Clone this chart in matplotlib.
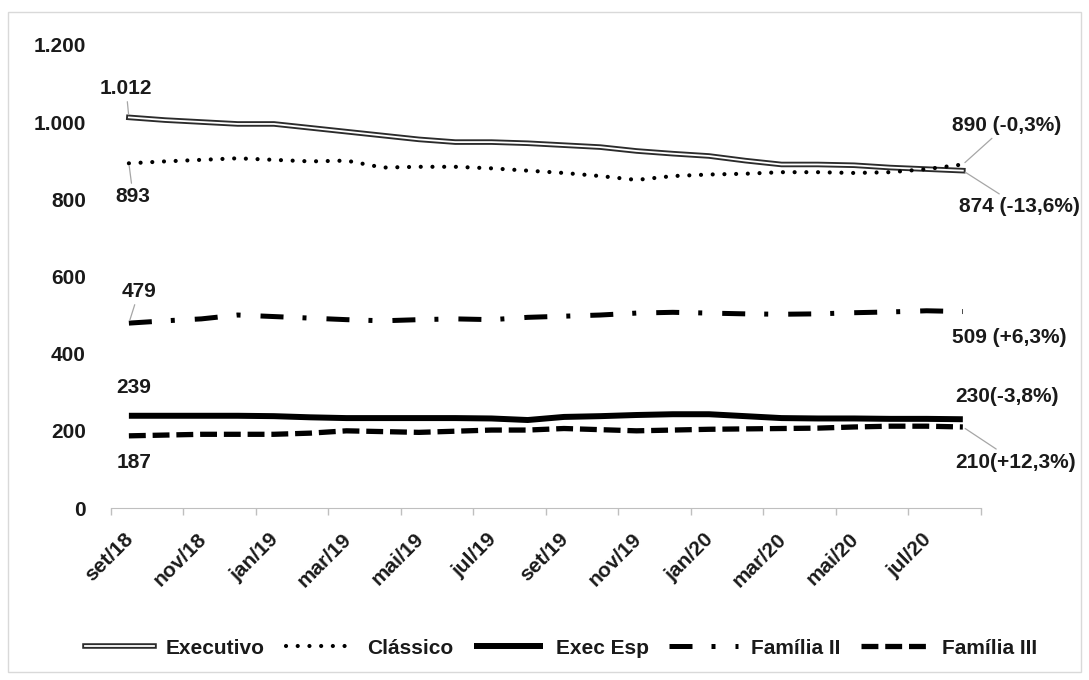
import numpy as np
import matplotlib.pyplot as plt
import matplotlib.patheffects as pe
from matplotlib.patches import Rectangle
from matplotlib.transforms import ScaledTranslation

plt.rcParams['font.family'] = ['Liberation Sans', 'DejaVu Sans']
plt.rcParams['font.weight'] = 'bold'

months = ["set/18", "out/18", "nov/18", "dez/18", "jan/19", "fev/19", "mar/19", "abr/19",
          "mai/19", "jun/19", "jul/19", "ago/19", "set/19", "out/19", "nov/19", "dez/19",
          "jan/20", "fev/20", "mar/20", "abr/20", "mai/20", "jun/20", "jul/20", "ago/20"]

executivo = [1012, 1005, 1000, 995, 995, 985, 975, 965, 955, 948, 948, 945,
             940, 935, 925, 918, 912, 900, 890, 890, 888, 882, 878, 874]
classico = [893, 898, 902, 906, 902, 898, 900, 882, 884, 884, 880, 874,
            868, 860, 850, 860, 864, 866, 870, 870, 868, 870, 878, 890]
exec_esp = [239, 239, 239, 239, 238, 235, 233, 233, 233, 233, 232, 228,
            236, 238, 241, 243, 243, 238, 233, 232, 232, 231, 231, 230]
familia2 = [479, 485, 490, 500, 496, 492, 488, 485, 488, 490, 488, 494,
            497, 500, 505, 507, 505, 503, 502, 503, 506, 508, 511, 509]
familia3 = [187, 189, 191, 191, 191, 194, 200, 198, 196, 199, 202, 202,
            206, 203, 200, 202, 204, 205, 206, 207, 210, 212, 212, 210]


def fmt_num(v):
    return f"{v:,}".replace(",", ".")


def fmt_pct(first, last):
    p = (last / first - 1) * 100
    return f"({p:+.1f}%)".replace(".", ",")


fig = plt.figure(figsize=(10.89, 6.8), dpi=100)
ax = fig.add_axes([0.1017, 0.2529, 0.7991, 0.6812])
fig.patches.append(Rectangle((0.007, 0.012), 0.986, 0.97, transform=fig.transFigure,
                             fill=False, edgecolor='#d9d9d9', lw=1.0))

x = np.arange(len(months))
txt = '#1a1a1a'

# double line for Executivo
ax.plot(x, executivo, color='white', lw=1.3, label='Executivo',
        path_effects=[pe.Stroke(linewidth=4.0, foreground='#2b2b2b'), pe.Normal()])
ln, = ax.plot(x, classico, color='black', lw=3.0, label='Clássico',
              dash_capstyle='round')
ln.set_dashes([0.01, 2.8])
ax.plot(x, exec_esp, color='black', lw=4.3, label='Exec Esp', solid_capstyle='butt')
ln, = ax.plot(x, familia2, color='black', lw=3.6, label='Família II')
ln.set_dashes([4.6, 3.8, 0.8, 4.0])
ln, = ax.plot(x, familia3, color='black', lw=3.8, label='Família III')
ln.set_dashes([3.2, 1.3])

ax.set_xlim(-0.5, len(months) - 0.5)
ax.set_ylim(0, 1200)

# category axis: ticks between categories, labels every other month
ax.set_xticks(np.arange(-0.5, len(months), 2))
ax.set_xticklabels([])
ax.set_xticks(x[::2], minor=True)
ax.set_xticklabels(months[::2], minor=True, rotation=45, ha='right', va='top',
                   rotation_mode='anchor', fontsize=15, color=txt)
ax.tick_params(axis='x', which='major', length=5, color='#bfbfbf', width=1)
ax.tick_params(axis='x', which='minor', length=0, pad=6)
shift = ScaledTranslation(-5 / 100, -13 / 100, fig.dpi_scale_trans)
for lab in ax.get_xticklabels(minor=True):
    lab.set_transform(lab.get_transform() + shift)

ax.set_yticks(np.arange(0, 1201, 200))
ax.set_yticklabels([fmt_num(v) for v in range(0, 1201, 200)], fontsize=15, color=txt)
ax.tick_params(axis='y', length=0, pad=18)

for s in ['top', 'right', 'left']:
    ax.spines[s].set_visible(False)
ax.spines['bottom'].set_color('#bfbfbf')
ax.spines['bottom'].set_linestyle((0, (2, 1)))

lead = dict(arrowstyle='-', color='#a6a6a6', lw=0.9, shrinkA=1, shrinkB=2)

# first-month labels
ax.annotate(fmt_num(executivo[0]), xy=(0, executivo[0]), xytext=(-0.08, 1088),
            ha='center', va='center', fontsize=15, color=txt, arrowprops=lead)
ax.annotate(fmt_num(classico[0]), xy=(0, classico[0]), xytext=(0.12, 806),
            ha='center', va='center', fontsize=15, color=txt, arrowprops=lead)
ax.annotate(fmt_num(familia2[0]), xy=(0, familia2[0]), xytext=(0.28, 562),
            ha='center', va='center', fontsize=15, color=txt, arrowprops=lead)
ax.text(0.14, 311, fmt_num(exec_esp[0]), ha='center', va='center', fontsize=15, color=txt)
ax.text(0.14, 119, fmt_num(familia3[0]), ha='center', va='center', fontsize=15, color=txt)

# last-month labels with change over the period
n = len(months) - 1
ax.annotate(fmt_num(classico[-1]) + " " + fmt_pct(classico[0], classico[-1]),
            xy=(n, classico[-1]), xytext=(22.7, 992), ha='left', va='center',
            fontsize=15, color=txt, arrowprops=lead)
ax.annotate(fmt_num(executivo[-1]) + " " + fmt_pct(executivo[0], executivo[-1]),
            xy=(n, executivo[-1]), xytext=(22.9, 780), ha='left', va='center',
            fontsize=15, color=txt, arrowprops=lead)
ax.text(22.7, 443, fmt_num(familia2[-1]) + " " + fmt_pct(familia2[0], familia2[-1]),
        ha='left', va='center', fontsize=15, color=txt)
ax.text(22.8, 288, fmt_num(exec_esp[-1]) + fmt_pct(exec_esp[0], exec_esp[-1]),
        ha='left', va='center', fontsize=15, color=txt)
ax.annotate(fmt_num(familia3[-1]) + fmt_pct(familia3[0], familia3[-1]),
            xy=(n, familia3[-1]), xytext=(22.8, 119), ha='left', va='center',
            fontsize=15, color=txt, arrowprops=lead)

fig.legend(loc='center', bbox_to_anchor=(561 / 1089, 1 - 648 / 680), ncol=5,
           frameon=False, fontsize=15, handlelength=3.3, handletextpad=0.6,
           columnspacing=1.0, labelcolor=txt)

fig.savefig('out.png', dpi=100)
